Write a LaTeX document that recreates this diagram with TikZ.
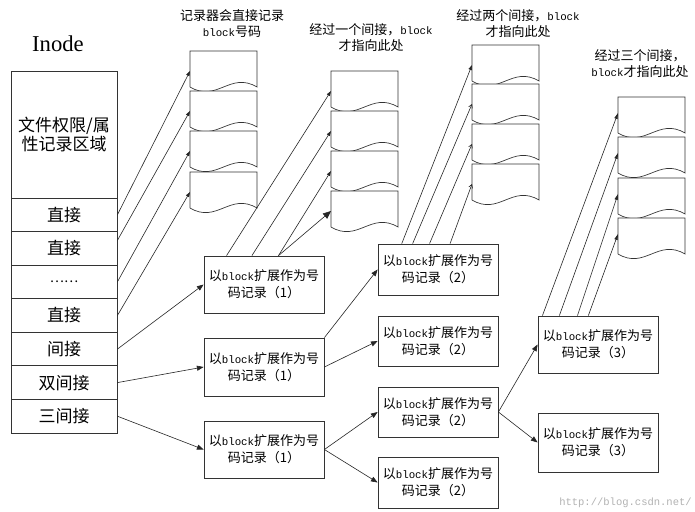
\documentclass[tikz,border=0pt]{standalone}
\usepackage{fontspec}
\setmainfont{Liberation Serif}
\newfontfamily\cjk{Noto Sans CJK SC}
\newfontfamily\lat{Liberation Mono}[Scale=0.83]
\usetikzlibrary{arrows.meta,calc}

\tikzset{
  cell/.style={draw=black!80, line width=0.6pt, minimum width=79.5pt, inner sep=0pt,
    font=\cjk\fontsize{12.75pt}{14.5pt}\selectfont, align=center},
  hdr/.style={cell, minimum height=95.25pt},
  irow/.style={cell, minimum height=25.18pt},
  rec/.style={draw=black!80, line width=0.6pt, fill=white, minimum width=90pt, inner sep=0pt,
    align=center, font=\cjk\fontsize{9.75pt}{12.75pt}\selectfont},
  lab/.style={align=center, inner sep=0pt, font=\cjk\fontsize{9.75pt}{12pt}\selectfont},
  conn/.style={line width=0.45pt, draw=black!85},
  tipS/.style={conn, -{Triangle[length=3.75pt,width=2.6pt]}},
  tipM/.style={conn, -{Triangle[length=5pt,width=3.8pt]}},
  tipL/.style={conn, -{Triangle[length=6pt,width=5pt]}},
  tipB/.style={conn, -{Straight Barb[length=2.5pt,width=3pt]}},
  tipK/.style={conn, -{Triangle[length=4.5pt,width=2.4pt]}},
  pageline/.style={draw=black!80, line width=0.5pt, fill=white},
  docpage/.pic={
    \draw[pageline] (0,0) -- (67,0) -- (67,36) .. controls (40,20) and (27,52) .. (0,36) -- cycle;
    \coordinate (-w) at (0,20);
    \coordinate (-v) at (0,16);
  }
}

\begin{document}
\begin{tikzpicture}[x=0.75pt,y=-0.75pt]
\fill[white] (0,0) rectangle (695,511);
\useasboundingbox (0,0) rectangle (695,511);

% Inode title
\node[inner sep=0pt, font=\fontsize{17pt}{20pt}\selectfont] (title) at (58,44) {Inode};

% Inode table
\node[hdr]  (hd) at (64,134.5) {文件权限/属\\性记录区域};
\node[irow] (d1) at (64,214.8) {直接};
\node[irow] (d2) at (64,248.4) {直接};
\node[irow] (d3) at (64,281.9) {\fontsize{10pt}{12pt}\selectfont ……};
\node[irow] (d4) at (64,315.5) {直接};
\node[irow] (i1) at (64,349.1) {间接};
\node[irow] (i2) at (64,382.6) {双间接};
\node[irow] (i3) at (64,416.2) {三间接};

% labels
\node[lab] (t1) at (232,24) {记录器会直接记录\\{\lat block}号码};
\node[lab] (t2) at (371,38) {经过一个间接，{\lat block}\\才指向此处};
\node[lab] (t3) at (518,24) {经过两个间接，{\lat block}\\才指向此处};
\node[lab] (t4) at (640,64) {经过三个间接，\\{\lat block}才指向此处};

% data pages
\pic (c1a) at (190,51) {docpage};
\pic (c1b) at (190,91) {docpage};
\pic (c1c) at (190,131) {docpage};
\pic (c1d) at (190,172) {docpage};

\pic (c2a) at (331,71) {docpage};
\pic (c2b) at (331,111) {docpage};
\pic (c2c) at (331,151) {docpage};
\pic (c2d) at (331,191) {docpage};

\pic (c3a) at (472,45) {docpage};
\pic (c3b) at (472,84) {docpage};
\pic (c3c) at (472,124) {docpage};
\pic (c3d) at (472,164) {docpage};

\pic (c4a) at (618,97) {docpage};
\pic (c4b) at (618,137) {docpage};
\pic (c4c) at (618,178) {docpage};
\pic (c4d) at (618,218) {docpage};

% index blocks
\node[rec, minimum height=42.75pt] (A) at (264,284.5) {以{\lat block}扩展作为号\\码记录（1）};
\node[rec, minimum height=43.5pt]  (B) at (264,367)   {以{\lat block}扩展作为号\\码记录（1）};
\node[rec, minimum height=42.75pt] (C) at (264,449.5) {以{\lat block}扩展作为号\\码记录（1）};

\node[rec, minimum height=38.25pt] (Pa) at (438,269.5) {以{\lat block}扩展作为号\\码记录（2）};
\node[rec, minimum height=37.5pt]  (Pb) at (438,341)   {以{\lat block}扩展作为号\\码记录（2）};
\node[rec, minimum height=37.5pt]  (Pc) at (438,412)   {以{\lat block}扩展作为号\\码记录（2）};
\node[rec, minimum height=38.25pt] (Pd) at (438,482.5) {以{\lat block}扩展作为号\\码记录（2）};

\node[rec, minimum height=42.75pt] (Qa) at (598,344.5) {以{\lat block}扩展作为号\\码记录（3）};
\node[rec, minimum height=44.25pt] (Qb) at (598,442.5) {以{\lat block}扩展作为号\\码记录（3）};

% direct pointers
\draw[tipS] (d1.east) -- (c1a-w);
\draw[tipS] ([yshift=6pt]d2.east) -- (c1b-w);
\draw[tipS] (d3.east) -- (c1c-w);
\draw[tipS] (d4.east) -- (c1d-w);

% indirect pointers from inode
\draw[tipM] (i1.east) -- (A.west);
\draw[tipM] (i2.east) -- (B.west);
\draw[tipM] (i3.east) -- (C.west);

% single indirect
\draw[tipS] ($(A.north west)!0.19!(A.north east)$) -- (c2a-w);
\draw[tipS] ($(A.north west)!0.40!(A.north east)$) -- (c2b-w);
\draw[tipS] ($(A.north west)!0.62!(A.north east)$) -- (c2c-w);
\draw[tipL] ($(A.north west)!0.62!(A.north east)$) -- (c2d-w);

% double indirect
\draw[tipM] (B.north east) -- (Pa.west);
\draw[tipM] (B.east) -- (Pb.west);
\draw[tipS] ($(Pa.north west)!0.20!(Pa.north east)$) -- (c3a-w);
\draw[tipB] ($(Pa.north west)!0.29!(Pa.north east)$) -- (c3b-w);
\draw[tipB] ($(Pa.north west)!0.43!(Pa.north east)$) -- (c3c-w);
\draw[tipB] ($(Pa.north west)!0.60!(Pa.north east)$) -- (c3d-w);

% triple indirect
\draw[tipM] (C.east) -- (Pc.west);
\draw[tipM] (C.east) -- (Pd.west);
\draw[tipM] (Pc.east) -- (Qa.west);
\draw[tipM] (Pc.east) -- (Qb.west);
\draw[tipK] ($(Qa.north west)!0.04!(Qa.north east)$) -- (c4a-v);
\draw[tipK] ($(Qa.north west)!0.18!(Qa.north east)$) -- (c4b-v);
\draw[tipK] ($(Qa.north west)!0.33!(Qa.north east)$) -- (c4c-v);
\draw[tipK] ($(Qa.north west)!0.42!(Qa.north east)$) -- (c4d-v);

% watermark
\node[anchor=east, inner sep=0pt, text=black!30, font=\lat\fontsize{9.5pt}{11pt}\selectfont] (wm) at (692,503) {http://blog.csdn.net/};
\end{tikzpicture}
\end{document}
